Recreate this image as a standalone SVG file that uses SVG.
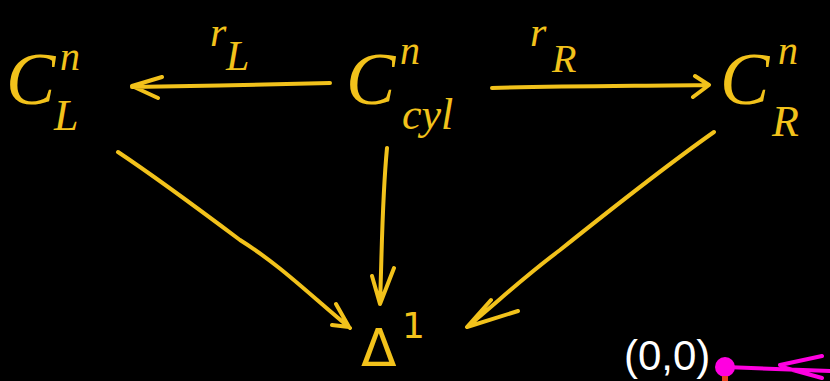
<svg xmlns="http://www.w3.org/2000/svg" width="830" height="381" viewBox="0 0 830 381">
<style>
.y{fill:#F2C21B;font-family:"Liberation Serif","DejaVu Serif",serif;font-style:italic}
.big{font-size:74px}
.sup{font-size:40px}
.sub{font-size:44px}
.c{fill:none;stroke:#F2C21B;stroke-width:4;stroke-linecap:round;stroke-linejoin:round}
</style>
<rect width="830" height="381" fill="#000"/>
<g id="CL">
<text class="y big" x="6" y="104">C</text>
<text class="y sup" x="60" y="70">n</text>
<text class="y sub" x="54" y="130">L</text>
</g>
<g id="Ccyl">
<text class="y big" x="346" y="104">C</text>
<text class="y sup" x="400" y="64">n</text>
<text class="y sub" x="402" y="129">cyl</text>
</g>
<g id="CR">
<text class="y big" x="720" y="104">C</text>
<text class="y sup" x="778" y="64">n</text>
<text class="y sub" x="772" y="136">R</text>
</g>
<g id="Delta">
<text x="361" y="366" style="fill:#F2C21B;font-family:'DejaVu Sans',sans-serif;font-size:52px">Δ</text>
<text class="y" x="402" y="338" style="font-style:normal;font-family:'DejaVu Sans',sans-serif;font-size:36px">1</text>
</g>
<g id="connectors">
<path class="c" d="M330 83 C260 85 200 86 132 87 M162 77 L132 86 L158 98"/>
<text class="y" x="210" y="46" style="font-size:42px">r</text>
<text class="y" x="226" y="70" style="font-size:42px">L</text>
<path class="c" d="M492 88 C560 86 640 86 708 85 M695 76 L709 85 L693 97"/>
<text class="y" x="530" y="46" style="font-size:42px">r</text>
<text class="y" x="552" y="72" style="font-size:40px">R</text>
<path class="c" d="M118 152 C160 180 200 210 240 240 C280 265 310 295 350 328 M336 304 L349 327 L332 325"/>
<path class="c" d="M387 148 C382 200 382 250 380 304 M372 276 L380 304 L394 268"/>
<path class="c" d="M714 132 C660 170 610 210 560 250 C520 280 500 300 467 327 M491 300 L467 327 L518 311"/>
</g>
<g id="origin">
<text x="624" y="370" style="fill:#fff;font-family:'Liberation Sans',sans-serif;font-size:42px">(0,0)</text>
<path d="M725 367 L830 371 M780 365 L822 356 M782 367 L822 378" fill="none" stroke="#FF00E0" stroke-width="4" stroke-linecap="round"/>
<circle cx="725" cy="367" r="10" fill="#FF00E0"/>
<rect x="722" y="376" width="6" height="5" fill="#E8401A"/>
</g>
</svg>
